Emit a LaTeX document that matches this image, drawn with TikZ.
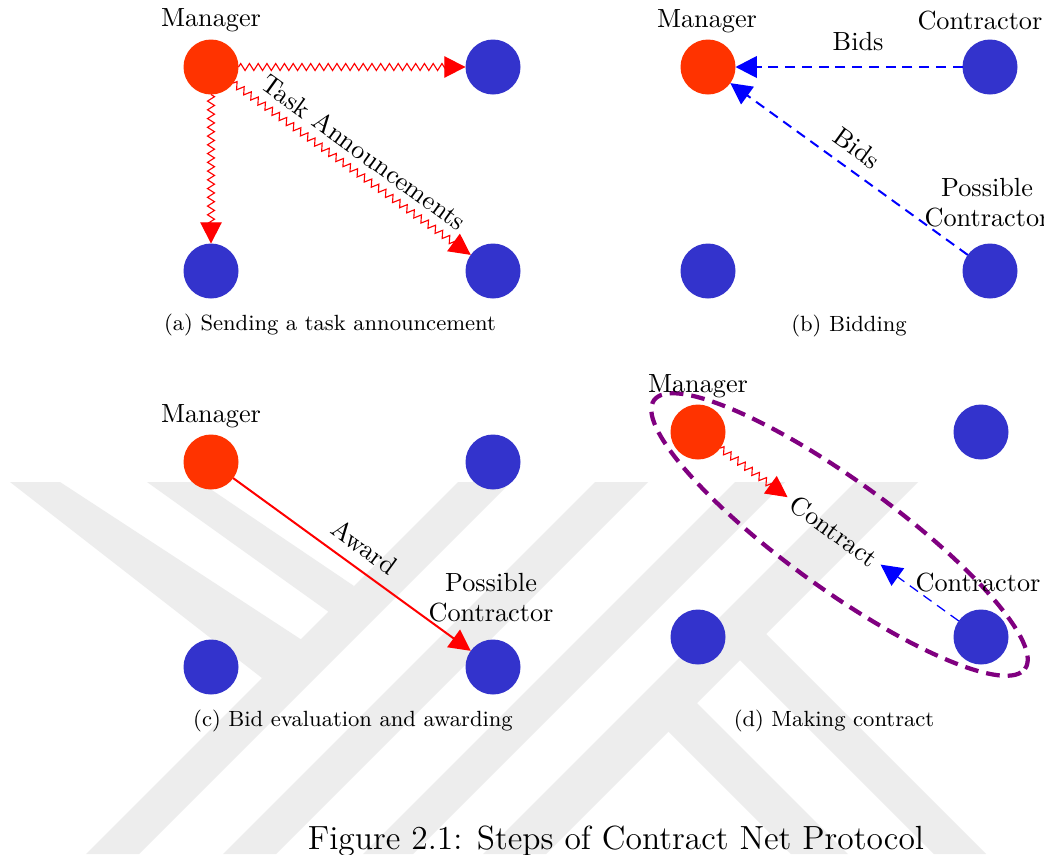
\documentclass[tikz,border=0pt]{standalone}
\usepackage{fontspec}
\usetikzlibrary{arrows.meta,decorations.pathmorphing,shapes.geometric,calc}
\definecolor{mgr}{RGB}{255,51,0}
\definecolor{agt}{RGB}{51,51,204}
\definecolor{wm}{RGB}{237,237,237}
\definecolor{grp}{RGB}{128,0,128}
\begin{document}
\begin{tikzpicture}[x=0.4pt, y=-0.4pt,
 >={Triangle[length=8.5pt,width=8.6pt]},
 mgrnode/.style={circle, fill=mgr, minimum size=22pt, inner sep=0pt, outer sep=0pt},
 agtnode/.style={circle, fill=agt, minimum size=22pt, inner sep=0pt, outer sep=0pt},
 lbl/.style={font=\fontsize{10.5}{12}\selectfont, inner sep=0pt, anchor=base},
 lbltwo/.style={font=\fontsize{10.5}{12}\selectfont, inner sep=0pt, align=center},
 edgelbl/.style={font=\fontsize{10.5}{12}\selectfont, inner sep=2.5pt},
 subcap/.style={font=\fontsize{8.8}{10.5}\selectfont, inner sep=0pt, anchor=base},
 figcap/.style={font=\fontsize{13.4}{16}\selectfont, inner sep=0pt, anchor=base},
 snk/.style={draw=red, line width=0.45pt, decorate, decoration={zigzag, amplitude=1.4pt, segment length=3.5pt, post length=2pt}, ->},
 bidline/.style={draw=blue, line width=0.8pt, dash pattern=on 4pt off 2.7pt, ->},
 awardline/.style={draw=red, line width=0.8pt, ->},
 grpring/.style={ellipse, draw=grp, line width=1.7pt, dash pattern=on 5.5pt off 3.2pt, inner sep=0pt, minimum width=183.2pt, minimum height=43.2pt},
 wmark/.style={fill=wm}]

\fill[white] (0,0) rectangle (1044,854);
\useasboundingbox (0,0) rectangle (1044,854);

% watermark
\fill[wmark] (10,482) -- (60,482) -- (305,642) -- (262,678) -- cycle;
\fill[wmark] (147,482) -- (200,482) -- (354,586) -- (333,615) -- cycle;
\fill[wmark] (458,482) -- (511,482) -- (139,854) -- (86,854) -- cycle;
\fill[wmark] (595,482) -- (648,482) -- (276,854) -- (223,854) -- cycle;
\fill[wmark] (735,482) -- (785,482) -- (413,854) -- (363,854) -- cycle;
\fill[wmark] (855,482) -- (918,482) -- (546,854) -- (483,854) -- cycle;
\fill[wmark] (756,624) -- (986,854) -- (934,854) -- (730,650) -- cycle;
\fill[wmark] (687,693) -- (848,854) -- (791,854) -- (658,721) -- cycle;

% (a)
\node[mgrnode] (mA) at (211,67) {};
\node[agtnode] (a1) at (493,67) {};
\node[agtnode] (a2) at (211,271) {};
\node[agtnode] (a3) at (493,271) {};
\node[lbl] (tA) at (211,26.7) {Manager};
\draw[snk] (mA) -- (a1);
\draw[snk] (mA) -- (a2);
\draw[snk] (mA) -- node[edgelbl, sloped, above=1.7pt] (taskA) {Task Announcements} (a3);
\node[subcap] (capA) at (330,330) {(a) Sending a task announcement};

% (b)
\node[mgrnode] (mB) at (708,67) {};
\node[agtnode] (b1) at (990,67) {};
\node[agtnode] (b2) at (708,271) {};
\node[agtnode] (b3) at (990,271) {};
\node[lbl] (tB) at (707,27) {Manager};
\node[lbl, anchor=base west] (tB1) at (917,29.5) {Contractor};
\node[lbltwo] (tB3) at (987,202.6) {Possible\\Contractor};
\draw[bidline] (b1) -- node[edgelbl, pos=0.46, above=3.7pt] (bidB1) {Bids} (mB);
\draw[bidline] (b3) -- node[edgelbl, pos=0.52, sloped, above=2pt] (bidB3) {Bids} (mB);
\node[subcap] (capB) at (849,331) {(b) Bidding};

% (c)
\node[mgrnode] (mC) at (211,462) {};
\node[agtnode] (c1) at (493,462) {};
\node[agtnode] (c2) at (211,667) {};
\node[agtnode] (c3) at (493,667) {};
\node[lbl] (tC) at (211,422.7) {Manager};
\node[lbltwo] (tC3) at (491,597.8) {Possible\\Contractor};
\draw[awardline] (mC) -- node[edgelbl, sloped, above=1.9pt] (awC) {Award} (c3);
\node[subcap] (capC) at (353,726.7) {(c) Bid evaluation and awarding};

% (d)
\node[grpring, rotate=-35.9] (ringD) at (839.5,534.5) {};
\node[mgrnode] (mD) at (698,432) {};
\node[agtnode] (d1) at (981,432) {};
\node[agtnode] (d2) at (698,637) {};
\node[agtnode] (d3) at (981,637) {};
\node[lbl] (tD) at (698,392) {Manager};
\node[lbl] (tD3) at (978,591.7) {Contractor};
\node[edgelbl, rotate=-35.9] (ctrD) at (834,531) {Contract};
\draw[snk] (mD) -- (ctrD);
\draw[bidline, line width=0.5pt] (d3) -- (ctrD);
\node[subcap] (capD) at (834,726.7) {(d) Making contract};

% figure caption
\node[figcap] (fig) at (616,849) {Figure 2.1: Steps of Contract Net Protocol};
\end{tikzpicture}
\end{document}
